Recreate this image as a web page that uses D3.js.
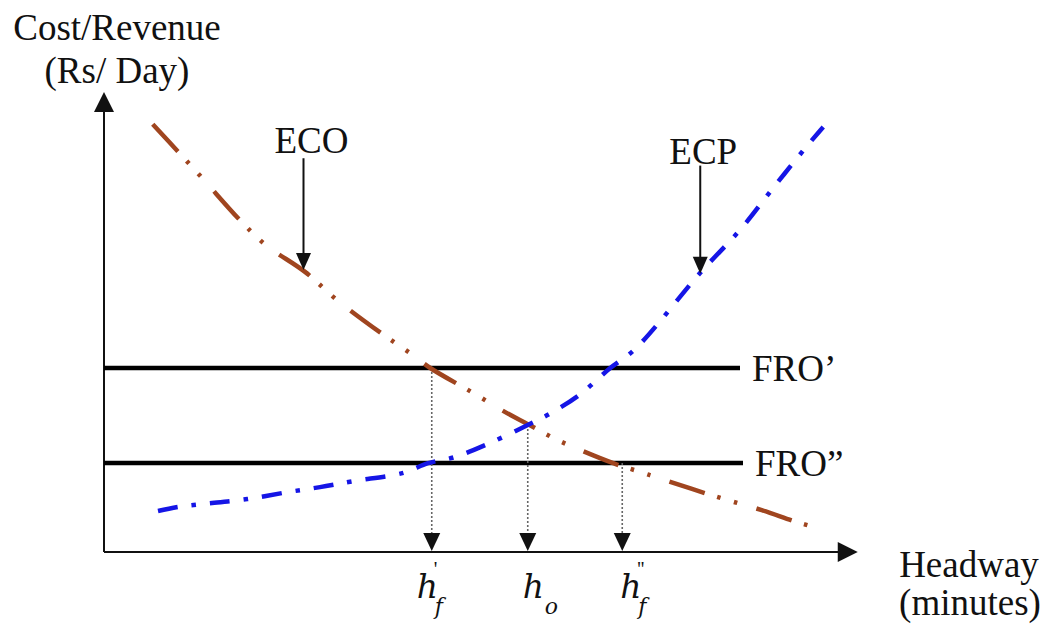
<!DOCTYPE html>
<html><head><meta charset="utf-8">
<script src="https://cdn.jsdelivr.net/npm/d3@7"></script>
<style>body{margin:0;background:#fff}svg text{font-family:"Liberation Serif","Times New Roman",serif;fill:#111}
svg text.it{font-family:"DejaVu Serif",serif;font-style:italic}</style>
</head><body>
<svg id="c" width="1048" height="630"></svg>
<script>
// Curve data (arbitrary units: headway 0-100, cost/revenue 0-100)
const ecoX = [6.5, 9.9, 13.2, 18.1, 21.6, 26.8, 31.2, 37.1, 41.2, 43.5, 49.2, 53.5, 56.5, 59.9, 62.3, 67.9, 71.5, 73.9, 78.4, 83.1, 87.7, 92.4, 95.2];
const ecoY = [93.0, 87.0, 81.1, 72.2, 66.7, 60.9, 54.6, 47.4, 42.8, 40.0, 34.6, 30.4, 27.8, 24.8, 23.0, 19.3, 17.4, 16.1, 13.7, 11.3, 9.1, 6.5, 5.2];
const ecpX = [7.2, 9.9, 14.4, 19.1, 24.4, 28.8, 33.2, 39.9, 43.2, 46.8, 51.2, 56.5, 59.6, 63.5, 67.5, 70.8, 79.5, 84.9, 89.2, 93.6, 95.9];
const ecpY = [8.9, 9.8, 10.65, 11.5, 13.0, 14.1, 15.4, 17.2, 19.3, 20.65, 23.5, 27.6, 30.2, 34.3, 40.0, 44.1, 60.7, 70.2, 79.1, 88.0, 92.4];
const froNames = ["FRO\u2019", "FRO\u201D"];
const froLevels = [40.0, 19.35];
const froEnds = [84.8, 85.2];
const hNames = ["h", "h", "h"];
const hSub = ["f", "o", "f"];
const hSup = ["'", "", "''"];
const hValues = [43.7, 56.5, 69.1];
const hTops = [40.0, 27.6, 19.35];
const ecoArrow = {x: 26.6, y0: 85.6, y1: 61.3};
const ecpArrow = {x: 79.5, y0: 84.0, y1: 60.5};
const xAxisMax = 100.5, yAxisMax = 100;

const svg = d3.select("#c");
const x = d3.scaleLinear().domain([0, 100]).range([104, 854]);
const y = d3.scaleLinear().domain([0, 100]).range([552, 92]);

// axes
svg.append("line").attr("x1", x(0)).attr("x2", x(xAxisMax) - 10).attr("y1", y(0)).attr("y2", y(0))
  .attr("stroke", "#111").attr("stroke-width", 2);
svg.append("line").attr("x1", x(0)).attr("x2", x(0)).attr("y1", y(0)).attr("y2", y(yAxisMax) + 10)
  .attr("stroke", "#111").attr("stroke-width", 2);
function tri(tx, ty, dir, w, h) {
  let p;
  if (dir === "up") p = [[tx, ty], [tx - w/2, ty + h], [tx + w/2, ty + h]];
  else if (dir === "down") p = [[tx, ty], [tx - w/2, ty - h], [tx + w/2, ty - h]];
  else p = [[tx, ty], [tx - h, ty - w/2], [tx - h, ty + w/2]];
  svg.append("path").attr("d", "M" + p.join("L") + "Z").attr("fill", "#111");
}
tri(x(0), y(yAxisMax), "up", 20, 20);
tri(x(xAxisMax), y(0), "right", 20, 20);

// FRO lines
froLevels.forEach((v, i) => {
  svg.append("line").attr("x1", x(0)).attr("x2", x(froEnds[i])).attr("y1", y(v)).attr("y2", y(v))
    .attr("stroke", "#000").attr("stroke-width", 4.5);
  svg.append("text").attr("x", x(froEnds[i]) + 12).attr("y", y(v) + 13).attr("font-size", 37).text(froNames[i]);
});

// dotted verticals + h labels
const labelShift = [-15, -5, -2];
hValues.forEach((v, i) => {
  svg.append("line").attr("x1", x(v)).attr("x2", x(v)).attr("y1", y(hTops[i])).attr("y2", y(0) - 16)
    .attr("stroke", "#666").attr("stroke-width", 1.6).attr("stroke-dasharray", "2 2");
  tri(x(v), y(0) - 1, "down", 17, 18);
  const g = svg.append("g").attr("transform", `translate(${x(v) + labelShift[i]},0)`);
  g.append("text").attr("class", "it").attr("x", 0).attr("y", 598).attr("font-size", 33).text(hNames[i]);
  g.append("text").attr("class", "it").attr("x", hSub[i] === "o" ? 22 : 18).attr("y", 614).attr("font-size", 22).text(hSub[i]);
  if (hSup[i]) g.append("text").attr("x", 17).attr("y", 576).attr("font-size", 20).text(hSup[i]);
});

// curves
const line = d3.line().x(d => x(d[0])).y(d => y(d[1])).curve(d3.curveCatmullRom);
svg.append("path").datum(ecoX.map((v, i) => [v, ecoY[i]])).attr("d", line)
  .attr("fill", "none").attr("stroke", "#a0451f").attr("stroke-width", 4.5)
  .attr("stroke-dasharray", "37 13 3.5 14 3.5 20");
svg.append("path").datum(ecpX.map((v, i) => [v, ecpY[i]])).attr("d", line)
  .attr("fill", "none").attr("stroke", "#1515e6").attr("stroke-width", 4.5)
  .attr("stroke-dasharray", "20 14 4.5 14");

// pointer arrows
[ecoArrow, ecpArrow].forEach(a => {
  svg.append("line").attr("x1", x(a.x)).attr("x2", x(a.x)).attr("y1", y(a.y0)).attr("y2", y(a.y1) - 12)
    .attr("stroke", "#111").attr("stroke-width", 2);
  tri(x(a.x), y(a.y1), "down", 15, 17);
});

// labels
svg.append("text").attr("x", x(ecoArrow.x) + 8).attr("y", 153).attr("text-anchor", "middle").attr("font-size", 37).text("ECO");
svg.append("text").attr("x", x(ecpArrow.x) + 3).attr("y", 164).attr("text-anchor", "middle").attr("font-size", 37).text("ECP");
svg.append("text").attr("x", 117).attr("y", 40).attr("text-anchor", "middle").attr("font-size", 37).text("Cost/Revenue");
svg.append("text").attr("x", 117).attr("y", 83).attr("text-anchor", "middle").attr("font-size", 37).text("(Rs/ Day)");
svg.append("text").attr("x", 969).attr("y", 577).attr("text-anchor", "middle").attr("font-size", 37).text("Headway");
svg.append("text").attr("x", 970).attr("y", 615).attr("text-anchor", "middle").attr("font-size", 37).text("(minutes)");
</script>
</body></html>
